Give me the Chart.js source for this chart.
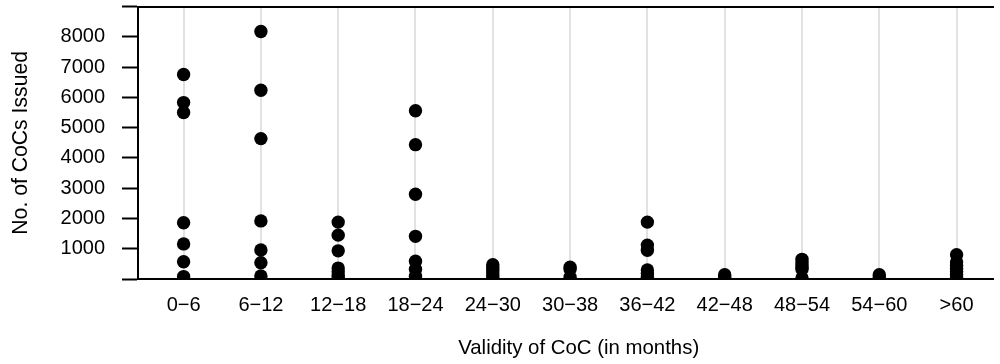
<!DOCTYPE html>
<html>
<head>
<meta charset="utf-8">
<script src="https://cdn.jsdelivr.net/npm/chart.js@4/dist/chart.umd.min.js"></script>
<style>
  html, body { margin: 0; padding: 0; background: #fff; }
  #wrap { width: 1000px; height: 364px; position: relative; }
</style>
</head>
<body>
<div id="wrap"><canvas id="c" width="1000" height="364"></canvas></div>
<script>
const categories = ["0\u22126", "6\u221212", "12\u221218", "18\u221224", "24\u221230", "30\u221238", "36\u221242", "42\u221248", "48\u221254", "54\u221260", ">60"];
const v0_6   = [6760, 5830, 5500, 1860, 1160, 570, 80];
const v6_12  = [8180, 6240, 4640, 1920, 960, 540, 100];
const v12_18 = [1880, 1450, 930, 360, 240, 120, 40];
const v18_24 = [5560, 4440, 2800, 1410, 590, 320, 90];
const v24_30 = [470, 380, 290, 200, 110, 30];
const v30_38 = [390, 330, 60];
const v36_42 = [1880, 1120, 950, 300, 180, 60];
const v42_48 = [140, 60];
const v48_54 = [650, 560, 470, 400, 320, 30];
const v54_60 = [140, 50];
const v60p   = [800, 560, 450, 350, 250, 150, 50];
const yTicks = [1000, 2000, 3000, 4000, 5000, 6000, 7000, 8000];

const groups = [v0_6, v6_12, v12_18, v18_24, v24_30, v30_38, v36_42, v42_48, v48_54, v54_60, v60p];
const points = [];
groups.forEach((arr, i) => arr.forEach(v => points.push({x: i, y: v})));

Chart.defaults.font.family = "'Liberation Sans', Arial, Helvetica, sans-serif";
Chart.defaults.color = '#000';

new Chart(document.getElementById('c'), {
  type: 'scatter',
  data: {
    datasets: [{
      data: points,
      backgroundColor: '#000',
      borderColor: '#000',
      borderWidth: 0,
      pointRadius: 6.7,
      pointHoverRadius: 6.7
    }]
  },
  options: {
    responsive: false,
    animation: false,
    events: [],
    layout: { padding: 0 },
    plugins: { legend: { display: false }, tooltip: { enabled: false } },
    scales: {
      x: {
        type: 'linear',
        position: 'bottom',
        min: -0.59,
        max: 10.475,
        afterBuildTicks: (s) => { s.ticks = categories.map((c, i) => ({ value: i })); },
        afterFit: (s) => { s.height = 85; s.paddingLeft = 0; s.paddingRight = 0; },
        ticks: {
          autoSkip: false,
          maxRotation: 0,
          padding: 14,
          font: { size: 20 },
          color: '#000',
          callback: (v) => categories[v]
        },
        grid: { color: '#e2e2e2', lineWidth: 2, drawTicks: false },
        border: { color: '#000', width: 2 },
        title: {
          display: true,
          text: '\u2002\u2002 Validity of CoC (in months)',
          font: { size: 20.4 },
          color: '#000',
          padding: { top: 4, bottom: 3 }
        }
      },
      xTop: {
        type: 'linear',
        position: 'top',
        afterFit: (s) => { s.height = 5; s.paddingLeft = 0; s.paddingRight = 0; },
        ticks: { display: false },
        grid: { display: false },
        border: { color: '#000', width: 2 }
      },
      y: {
        type: 'linear',
        min: 0,
        max: 9000,
        afterBuildTicks: (s) => { s.ticks = [0].concat(yTicks, [9000]).map(v => ({ value: v })); },
        afterFit: (s) => { s.width = 138; s.paddingTop = 0; s.paddingBottom = 0; },
        ticks: {
          padding: 17,
          font: { size: 20 },
          color: '#000',
          callback: (v) => yTicks.includes(v) ? String(v) : ''
        },
        grid: { drawOnChartArea: false, tickLength: 16, tickColor: '#000', tickWidth: 2 },
        border: { color: '#000', width: 2 },
        title: {
          display: true,
          text: 'No. of CoCs Issued',
          font: { size: 21.2 },
          color: '#000',
          padding: { top: 8, bottom: 4 }
        }
      }
    }
  }
});
</script>
</body>
</html>
